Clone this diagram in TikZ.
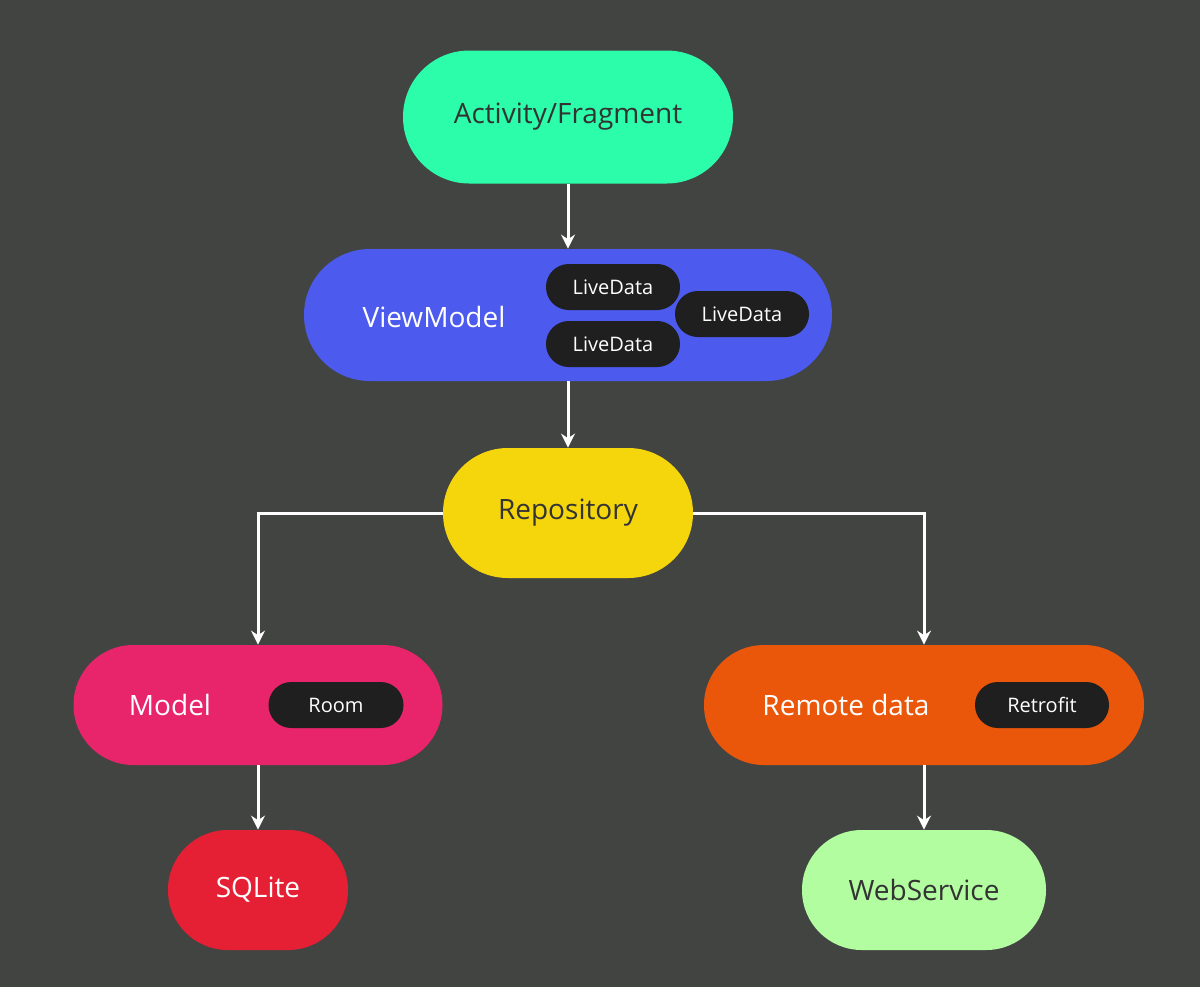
\documentclass[tikz,border=0pt]{standalone}
\usepackage{fontspec}
\setmainfont{Open Sans}
\usetikzlibrary{arrows.meta}
\definecolor{bg}{HTML}{424442}
\definecolor{cact}{HTML}{2CFDAA}
\definecolor{cvm}{HTML}{4C5AEE}
\definecolor{crepo}{HTML}{F5D50B}
\definecolor{cmodel}{HTML}{E8246A}
\definecolor{cremote}{HTML}{EA560A}
\definecolor{csql}{HTML}{E62034}
\definecolor{cweb}{HTML}{B2FDA0}
\definecolor{cpill}{HTML}{1E1F1E}
\definecolor{dtext}{HTML}{333333}
\begin{document}
\begin{tikzpicture}[x=0.5pt,y=-0.5pt,
  box/.style n args={3}{draw=none,fill=#1,minimum width=#2*0.5pt,minimum height=#3*0.5pt,rounded corners=#3*0.25pt-0.1pt,inner sep=0pt},
  big/.style={font=\fontsize{14}{16}\selectfont},
  small/.style={font=\fontsize{10}{12}\selectfont,text=white},
  arr/.style={draw=white,line width=1.5pt,-{Stealth[length=7pt,width=7pt]}}]
\fill[bg] (0,0) rectangle (1200,987);
\useasboundingbox (0,0) rectangle (1200,987);
\node[box={cact}{330}{133},big,text=dtext] (act) at (568,117) {Activity/Fragment};
\node[box={cvm}{528}{132}] (vm) at (568,315) {};
\node[big,text=white] (vmt) at (434,317) {ViewModel};
\node[box={cpill}{134}{46},small] (ld1) at (613,287) {LiveData};
\node[box={cpill}{134}{46},small] (ld2) at (613,344) {LiveData};
\node[box={cpill}{134}{46},small] (ld3) at (742,314) {LiveData};
\node[box={crepo}{250}{130},big,text=dtext] (repo) at (568,513) {Repository};
\node[box={cmodel}{369}{120}] (model) at (258,705) {};
\node[big,text=white] (modelt) at (170,705) {Model};
\node[box={cpill}{135}{46},small] (room) at (336,705) {Room};
\node[box={cremote}{440}{120}] (remote) at (924,705) {};
\node[big,text=white] (remotet) at (846,705) {Remote data};
\node[box={cpill}{134}{46},small] (retro) at (1042,705) {Retrofit};
\node[box={csql}{180}{120},big,text=white] (sql) at (258,890) {SQLite};
\node[box={cweb}{244}{120},big,text=dtext] (web) at (924,890) {WebService};
\draw[arr] (act) -- (vm);
\draw[arr] (vm) -- (repo);
\draw[arr] (repo.west) -| (model.north);
\draw[arr] (repo.east) -| (remote.north);
\draw[arr] (model) -- (sql);
\draw[arr] (remote) -- (web);
\end{tikzpicture}
\end{document}
